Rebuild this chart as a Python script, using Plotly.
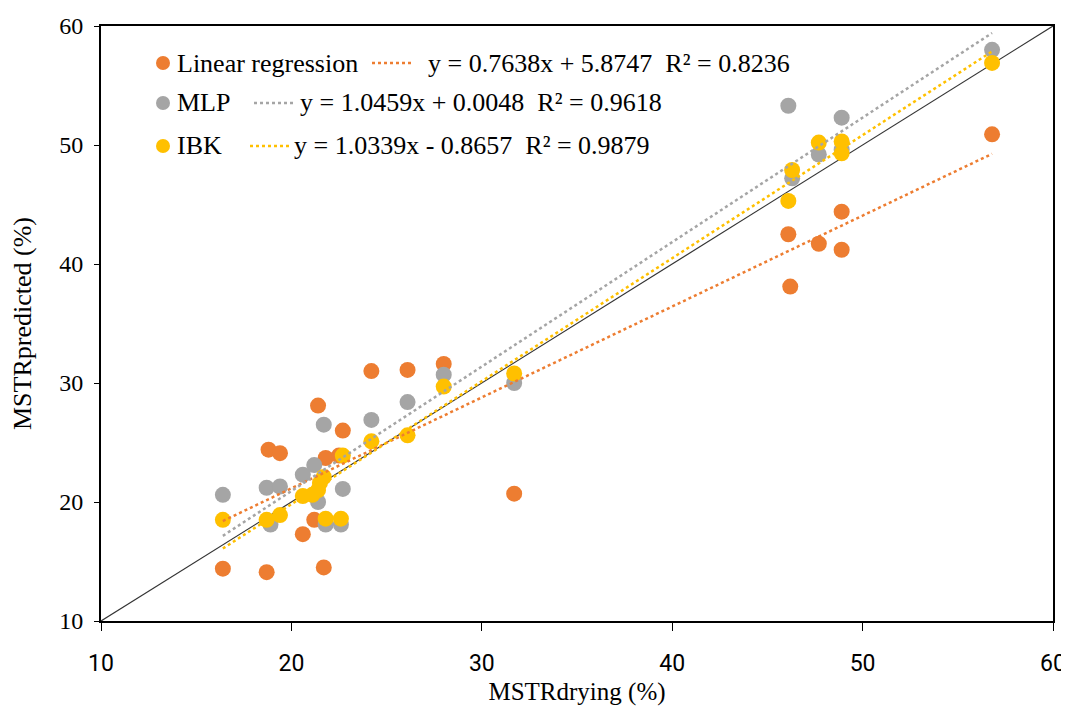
import plotly.graph_objects as go

lr_x = [16.4, 18.7, 21.7, 18.8, 19.4, 21.4, 22.7, 21.8, 22.5, 21.2, 20.6,
        24.2, 26.1, 28.0, 31.7, 48.9, 46.1, 47.7, 48.9, 46.2, 56.8]
lr_y = [14.4, 14.1, 14.5, 24.4, 24.1, 28.1, 26.0, 23.7, 23.9, 18.5, 17.3,
        31.0, 31.1, 31.6, 20.7, 44.4, 42.5, 41.7, 41.2, 38.1, 50.9]

mlp_x = [16.4, 18.7, 19.4, 20.6, 21.2, 21.7, 22.7, 21.4, 21.8, 22.6, 18.9,
         24.2, 26.1, 28.0, 31.7, 46.1, 48.9, 47.7, 46.3, 48.9, 56.8]
mlp_y = [20.6, 21.2, 21.3, 22.3, 23.1, 26.5, 21.1, 20.0, 18.1, 18.1, 18.1,
         26.9, 28.4, 30.7, 30.0, 53.3, 52.3, 49.2, 47.2, 49.6, 58.0]

ibk_x = [16.4, 18.7, 19.4, 20.6, 21.4, 21.7, 21.8, 22.6, 22.7, 24.2, 26.1,
         28.0, 31.7, 47.7, 48.9, 48.9, 46.3, 46.1, 56.8, 21.1, 21.5]
ibk_y = [18.5, 18.5, 18.9, 20.5, 21.0, 22.1, 18.6, 18.6, 23.9, 25.1, 25.6,
         29.7, 30.8, 50.2, 50.3, 49.3, 47.9, 45.3, 56.9, 20.6, 21.6]

names = ["Linear regression", "MLP", "IBK"]
slopes = [0.7638, 1.0459, 1.0339]
intercepts = [5.8747, 0.0048, -0.8657]
r2 = [0.8236, 0.9618, 0.9879]
colors = ["#ED7D31", "#A5A5A5", "#FFC000"]

xs = [lr_x, mlp_x, ibk_x]
ys = [lr_y, mlp_y, ibk_y]

serif = "Liberation Serif, Times New Roman, serif"

fig = go.Figure()

# y = x reference line
fig.add_trace(go.Scatter(x=[10, 60], y=[10, 60], mode="lines",
                         line=dict(color="#333333", width=1.2), showlegend=False))

for i in range(3):
    fig.add_trace(go.Scatter(x=xs[i], y=ys[i], mode="markers", name=names[i],
                             marker=dict(color=colors[i], size=16), showlegend=False))

for i in range(3):
    x0, x1 = min(xs[i]), max(xs[i])
    fig.add_trace(go.Scatter(x=[x0, x1],
                             y=[slopes[i] * x0 + intercepts[i], slopes[i] * x1 + intercepts[i]],
                             mode="lines", line=dict(color=colors[i], width=2.5, dash="dot"),
                             showlegend=False))

# hand made legend, placed in pixels of the page (plot area 101..1053 x 26..621)
L, R, T, B = 101, 1053, 26, 621
def px(x):
    return (x - L) / (R - L)
def py(y):
    return (B - y) / (B - T)

rows = [
    # y, dot x, name x, line x0, line x1, equation x
    (63, 163, 175, 372, 413, 426),
    (103, 163, 175, 254, 295, 298),
    (146, 163, 175, 250, 292, 292),
]
for i, (ry, dx, nx, lx0, lx1, ex) in enumerate(rows):
    fig.add_shape(type="circle", xref="paper", yref="paper",
                  xsizemode="pixel", ysizemode="pixel",
                  xanchor=px(dx), yanchor=py(ry), x0=-7, x1=7, y0=-7, y1=7,
                  fillcolor=colors[i], line=dict(width=0))
    fig.add_annotation(xref="paper", yref="paper", x=px(nx), y=py(ry),
                       text=names[i], showarrow=False, xanchor="left", yanchor="middle",
                       font=dict(family=serif, size=26, color="black"))
    fig.add_shape(type="line", xref="paper", yref="paper",
                  x0=px(lx0), x1=px(lx1), y0=py(ry), y1=py(ry),
                  line=dict(color=colors[i], width=2.5, dash="dot"))
    sign = "+" if intercepts[i] >= 0 else "-"
    eq = f"y = {slopes[i]:.4f}x {sign} {abs(intercepts[i]):.4f}  R² = {r2[i]:.4f}"
    fig.add_annotation(xref="paper", yref="paper", x=px(ex), y=py(ry),
                       text=eq, showarrow=False, xanchor="left", yanchor="middle",
                       font=dict(family=serif, size=26, color="black"))

fig.update_xaxes(range=[10, 60], dtick=10, showgrid=False, zeroline=False,
                 showline=True, linecolor="black", linewidth=2, mirror=True,
                 ticks="outside", ticklen=8, tickcolor="black", ticklabelstandoff=12,
                 automargin=False,
                 tickfont=dict(family="Liberation Sans Narrow, Roboto, Liberation Sans, sans-serif",
                               size=23, color="black"),
                 title=dict(text="MSTRdrying (%)", font=dict(family=serif, size=25, color="black"),
                            standoff=7))
fig.update_yaxes(range=[10, 60], dtick=10, showgrid=False, zeroline=False,
                 showline=True, linecolor="black", linewidth=2, mirror=True,
                 ticks="outside", ticklen=5, tickcolor="black", ticklabelstandoff=6,
                 automargin=False,
                 tickfont=dict(family=serif, size=24, color="black"),
                 title=dict(text="MSTRpredicted (%)", font=dict(family=serif, size=26, color="black"),
                            standoff=22))

# the page body adds an 8px margin, so the figure is 8px smaller on each side
fig.update_layout(width=1061, height=699, plot_bgcolor="white", paper_bgcolor="white",
                  margin=dict(l=93, r=16, t=18, b=86), showlegend=False)

fig.write_html("out.html")
